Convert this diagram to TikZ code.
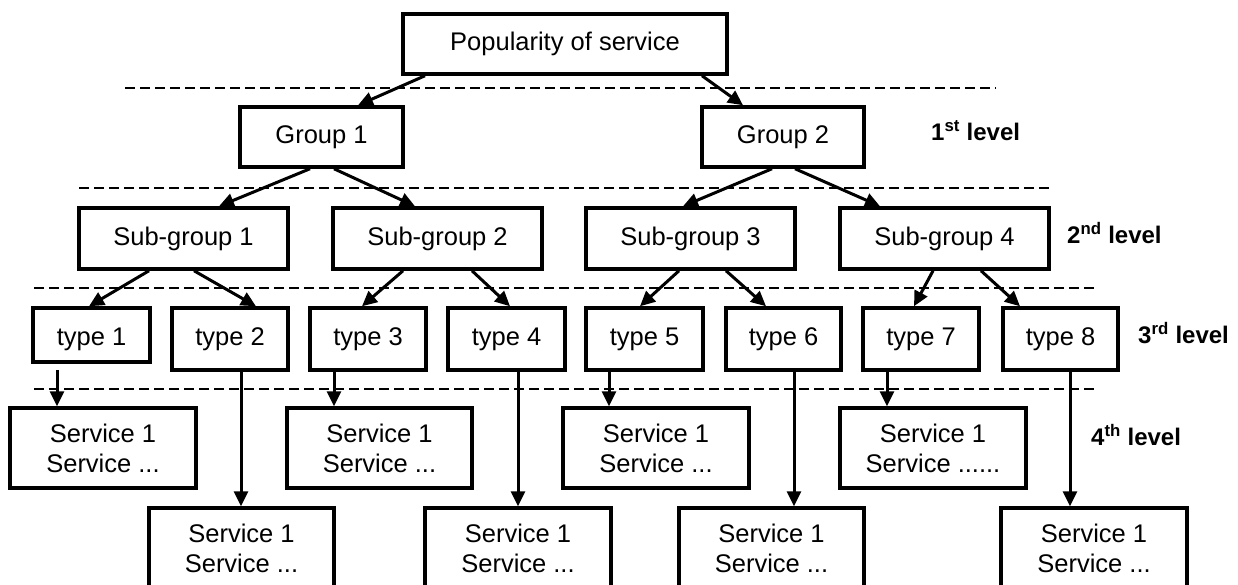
\documentclass[tikz,border=0pt]{standalone}
\usepackage{fontspec}
\setmainfont{Liberation Sans}
\usetikzlibrary{arrows.meta}
\tikzset{
  box/.style={draw=black, line width=3.5pt, rectangle, inner sep=0pt, align=center,
    font=\fontsize{25.5}{30}\selectfont},
  tbox/.style={box, text height=18pt, text depth=5pt},
  arr/.style={line width=3pt, -{Triangle[length=15pt,width=14pt]}},
  lvl/.style={anchor=west, inner sep=0pt, font=\fontsize{24}{28}\selectfont\bfseries},
  sep/.style={line width=2.5pt, dash pattern=on 10pt off 5pt},
}
\newcommand{\svc}[1]{Service 1\\Service #1}
\begin{document}
\begin{tikzpicture}[x=1pt,y=-1pt]
\clip (0,0) rectangle (1238,584);
\fill[white] (0,0) rectangle (1238,584);
% separators
\draw[sep] (125,88) -- (996,88);
\draw[sep] (79,188) -- (1049,188);
\draw[sep] (34,288) -- (1097,288);
\draw[sep] (34,389) -- (1095,389);
% nodes
\node[box, minimum width=324pt, minimum height=60pt] (pop) at (565,44) {Popularity of service};
\node[box, minimum width=163pt, minimum height=60pt] (g1) at (321.5,137) {Group 1};
\node[box, minimum width=162pt, minimum height=60pt] (g2) at (783,137) {Group 2};
\node[box, minimum width=209pt, minimum height=61pt] (sg1) at (183.5,238.5) {Sub-group 1};
\node[box, minimum width=209pt, minimum height=61pt] (sg2) at (437.5,238.5) {Sub-group 2};
\node[box, minimum width=209pt, minimum height=61pt] (sg3) at (690.5,238.5) {Sub-group 3};
\node[box, minimum width=209pt, minimum height=61pt] (sg4) at (944.5,238.5) {Sub-group 4};
\node[tbox, text height=26pt, minimum width=117pt, minimum height=54pt] (t1) at (91.5,335) {type 1};
\node[tbox, minimum width=116pt, minimum height=62pt] (t2) at (230,339) {type 2};
\node[tbox, minimum width=116pt, minimum height=62pt] (t3) at (368,339) {type 3};
\node[tbox, minimum width=117pt, minimum height=62pt] (t4) at (506.5,339) {type 4};
\node[tbox, minimum width=117pt, minimum height=62pt] (t5) at (644.5,339) {type 5};
\node[tbox, minimum width=115pt, minimum height=62pt] (t6) at (783.5,339) {type 6};
\node[tbox, minimum width=116pt, minimum height=62pt] (t7) at (921,339) {type 7};
\node[tbox, minimum width=115pt, minimum height=62pt] (t8) at (1060.5,339) {type 8};
\node[box, minimum width=186pt, minimum height=80pt] (s1) at (103,448) {\svc{...}};
\node[box, minimum width=185pt, minimum height=80pt] (s3) at (379.5,448) {\svc{...}};
\node[box, minimum width=186pt, minimum height=80pt] (s5) at (656,448) {\svc{...}};
\node[box, minimum width=186pt, minimum height=80pt] (s7) at (933,448) {\svc{......}};
\node[box, minimum width=185pt, minimum height=80pt] (s2) at (241.5,548) {\svc{...}};
\node[box, minimum width=186pt, minimum height=80pt] (s4) at (518,548) {\svc{...}};
\node[box, minimum width=185pt, minimum height=80pt] (s6) at (771.5,548) {\svc{...}};
\node[box, minimum width=186pt, minimum height=80pt] (s8) at (1094,548) {\svc{...}};
% level labels
\node[lvl] (l1) at (931,131) {1\textsuperscript{st} level};
\node[lvl] (l2) at (1067,233) {2\textsuperscript{nd} level};
\node[lvl] (l3) at (1138,333) {3\textsuperscript{rd} level};
\node[lvl] (l4) at (1091,435) {4\textsuperscript{th} level};
% connectors
\draw[arr] ([xshift=-140pt]pop.south) -- ([xshift=36.5pt]g1.north);
\draw[arr] ([xshift=137pt]pop.south) -- ([xshift=-40pt]g2.north);
\draw[arr] ([xshift=-11.5pt]g1.south) -- ([xshift=35.5pt]sg1.north);
\draw[arr] ([xshift=12.5pt]g1.south) -- ([xshift=-22.5pt]sg2.north);
\draw[arr] ([xshift=-11pt]g2.south) -- ([xshift=-7.5pt]sg3.north);
\draw[arr] ([xshift=12pt]g2.south) -- ([xshift=-64.5pt]sg4.north);
\draw[arr] ([xshift=-34.5pt]sg1.south) -- ([xshift=-2.5pt]t1.north);
\draw[arr] ([xshift=10.5pt]sg1.south) -- ([xshift=26pt]t2.north);
\draw[arr] ([xshift=-34.5pt]sg2.south) -- ([xshift=-6pt]t3.north);
\draw[arr] ([xshift=34.5pt]sg2.south) -- ([xshift=3.5pt]t4.north);
\draw[arr] ([xshift=-11.5pt]sg3.south) -- ([xshift=-4.5pt]t5.north);
\draw[arr] ([xshift=35.5pt]sg3.south) -- ([xshift=-17.5pt]t6.north);
\draw[arr] ([xshift=-11.5pt]sg4.south) -- ([xshift=-7pt]t7.north);
\draw[arr] ([xshift=36.5pt]sg4.south) -- ([xshift=-40.5pt]t8.north);
\draw[arr] ([xshift=-34.5pt,yshift=-6pt]t1.south) -- ([xshift=-46pt]s1.north);
\draw[arr] ([xshift=11pt]t2.south) -- ([xshift=-0.5pt]s2.north);
\draw[arr] ([xshift=-34pt]t3.south) -- ([xshift=-45.5pt]s3.north);
\draw[arr] ([xshift=11.5pt]t4.south) -- ([xshift=0pt]s4.north);
\draw[arr] ([xshift=-35.5pt]t5.south) -- ([xshift=-47pt]s5.north);
\draw[arr] ([xshift=10.5pt]t6.south) -- ([xshift=22.5pt]s6.north);
\draw[arr] ([xshift=-34pt]t7.south) -- ([xshift=-46pt]s7.north);
\draw[arr] ([xshift=9.5pt]t8.south) -- ([xshift=-24pt]s8.north);
\end{tikzpicture}
\end{document}
